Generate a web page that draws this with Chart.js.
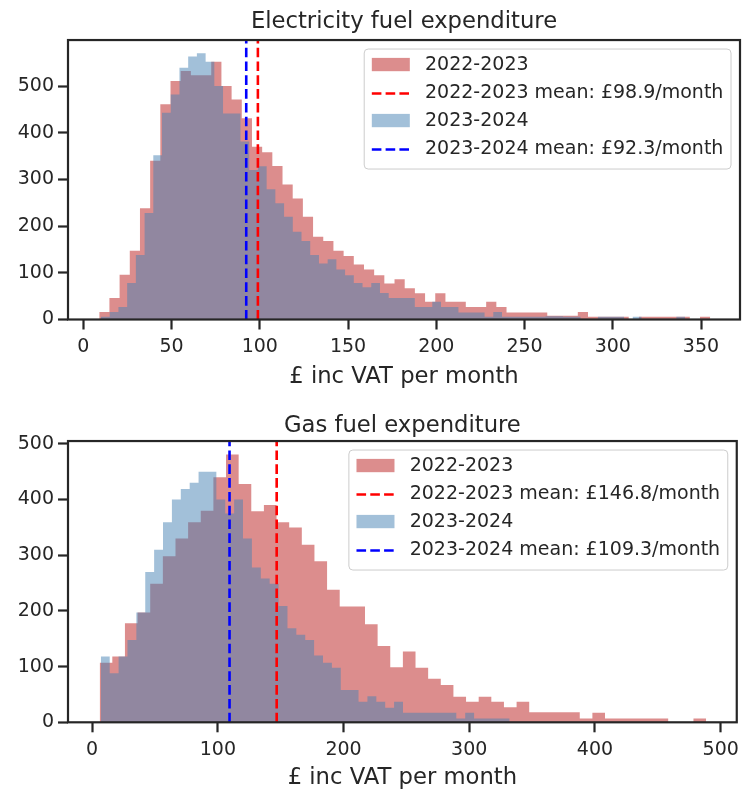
<!DOCTYPE html>
<html>
<head>
<meta charset="utf-8">
<script src="https://cdn.jsdelivr.net/npm/chart.js@4.4.1/dist/chart.umd.min.js"></script>
<style>
  html, body { margin: 0; padding: 0; background: #ffffff; }
  canvas { display: block; }
</style>
</head>
<body>
<canvas id="elec" width="745" height="396"></canvas>
<canvas id="gas" width="745" height="396"></canvas>
<script>
// Monthly fuel spend per household, two heating seasons per fuel.
const seasons = ['2022-2023', '2023-2024'];

// Electricity: histogram bins as [first edge, bin width] in £, counts per bin
const elecBins2223 = [9.0, 5.77];
const elecCounts2223 = [16, 46, 96, 147, 238, 340, 461, 511, 532, 523,
  523, 552, 500, 471, 431, 370, 358, 329, 289, 259,
  220, 177, 168, 147, 136, 118, 107, 95, 77, 86,
  67, 56, 38, 56, 38, 38, 27, 27, 38, 27,
  15, 15, 15, 15, 8, 8, 8, 16, 6, 6,
  6, 6, 0, 6, 6, 6, 6, 6, 0, 6];
const elecBins2324 = [10.0, 4.94];
const elecCounts2324 = [6, 16, 27, 78, 138, 228, 352, 443, 482, 539,
  563, 570, 552, 500, 441, 441, 381, 320, 328, 279,
  249, 220, 188, 168, 138, 120, 129, 107, 95, 78,
  69, 78, 57, 46, 46, 46, 27, 27, 38, 27,
  27, 15, 15, 15, 6, 16, 6, 6, 6, 6,
  6, 7, 7, 6, 6, 0, 0, 6, 6, 6,
  0, 6, 0, 0, 0, 0, 6];
const elecMeans = [98.9, 92.3];

// Gas
const gasBins2223 = [6.0, 10.05];
const gasCounts2223 = [107, 118, 178, 197, 249, 298, 330, 359, 380, 440,
  481, 428, 379, 390, 359, 350, 319, 289, 238, 208,
  208, 176, 137, 99, 127, 98, 78, 67, 46, 37,
  46, 37, 27, 37, 18, 18, 18, 18, 7, 17,
  7, 7, 7, 7, 7, 0, 0, 7];
const gasBins2324 = [6.9, 7.07];
const gasCounts2324 = [118, 88, 118, 148, 197, 270, 310, 359, 400, 419,
  430, 450, 450, 400, 375, 400, 330, 278, 258, 249,
  209, 169, 157, 148, 120, 107, 98, 58, 58, 37,
  47, 37, 26, 37, 17, 17, 17, 17, 17, 17,
  7, 17, 7, 7, 7, 7];
const gasMeans = [146.8, 109.3];

// Axis ranges and tick positions
const elecXRange = [-8.7, 372.1];
const gasXRange = [-19.2, 512.8];
const elecXTicks = [0, 50, 100, 150, 200, 250, 300, 350];
const gasXTicks = [0, 100, 200, 300, 400, 500];
const yTicks = [0, 100, 200, 300, 400, 500];
const xAxisTitle = '£ inc VAT per month';

const ink = '#262626';
const fillColours = ['rgba(205, 92, 92, 0.7)', 'rgba(70, 130, 180, 0.5)'];
const meanColours = ['#ff0000', '#0000ff'];
const FONT = '"DejaVu Sans", sans-serif';

Chart.defaults.font.family = FONT;
Chart.defaults.color = ink;

// Step outline for a histogram: each edge carries the count of the bin to its right
function histogram(label, bins, counts, colour, order) {
  const [first, width] = bins;
  const data = counts.map((c, i) => ({ x: first + i * width, y: c }));
  data.push({ x: first + counts.length * width, y: counts[counts.length - 1] });
  return {
    label, data, kind: 'hist', order,
    backgroundColor: colour, borderColor: 'rgba(0,0,0,0)', borderWidth: 0,
    fill: 'origin', stepped: 'before', pointRadius: 0, tension: 0
  };
}

function meanLine(season, mean, yTop, colour, order) {
  return {
    label: season + ' mean: £' + mean.toFixed(1) + '/month',
    kind: 'mean', order,
    data: [{ x: mean, y: 0 }, { x: mean, y: yTop }],
    borderColor: colour, borderWidth: 2.6, borderDash: [9.6, 4.2],
    fill: false, pointRadius: 0
  };
}

// Axes frame on all four sides plus a legend boxed in the upper right corner
const frameAndLegend = {
  id: 'frameAndLegend',
  afterDraw(chart) {
    const { ctx, chartArea: a } = chart;
    ctx.save();
    ctx.strokeStyle = ink;
    ctx.lineWidth = 2.2;
    ctx.strokeRect(a.left, a.top, a.right - a.left, a.bottom - a.top);

    const fs = 19;
    ctx.font = fs + 'px ' + FONT;
    const items = chart.data.datasets;
    const handleLen = 2.0 * fs, handlePad = 0.8 * fs, pad = 0.4 * fs;
    const pitch = 28, padTop = 16.5, padBottom = 19.5;
    const textW = Math.max(...items.map(d => ctx.measureText(d.label).width));
    const w = pad + handleLen + handlePad + textW + pad;
    const h = padTop + pitch * (items.length - 1) + padBottom;
    const x0 = a.right - 9 - w, y0 = a.top + 9;

    const r = 4;
    ctx.beginPath();
    ctx.moveTo(x0 + r, y0);
    ctx.lineTo(x0 + w - r, y0);
    ctx.arcTo(x0 + w, y0, x0 + w, y0 + r, r);
    ctx.lineTo(x0 + w, y0 + h - r);
    ctx.arcTo(x0 + w, y0 + h, x0 + w - r, y0 + h, r);
    ctx.lineTo(x0 + r, y0 + h);
    ctx.arcTo(x0, y0 + h, x0, y0 + h - r, r);
    ctx.lineTo(x0, y0 + r);
    ctx.arcTo(x0, y0, x0 + r, y0, r);
    ctx.closePath();
    ctx.fillStyle = 'rgba(255,255,255,0.8)';
    ctx.fill();
    ctx.strokeStyle = '#cccccc';
    ctx.lineWidth = 1;
    ctx.stroke();

    items.forEach((d, i) => {
      const cy = y0 + padTop + i * pitch;
      const hx = x0 + pad;
      if (d.kind === 'hist') {
        ctx.fillStyle = d.backgroundColor;
        ctx.fillRect(hx, cy - 0.35 * fs - 1, handleLen, 0.7 * fs);
      } else {
        ctx.strokeStyle = d.borderColor;
        ctx.lineWidth = d.borderWidth;
        ctx.setLineDash(d.borderDash);
        ctx.beginPath();
        ctx.moveTo(hx, cy);
        ctx.lineTo(hx + handleLen, cy);
        ctx.stroke();
        ctx.setLineDash([]);
      }
      ctx.fillStyle = ink;
      ctx.textAlign = 'left';
      ctx.textBaseline = 'middle';
      ctx.fillText(d.label, hx + handleLen + handlePad, cy);
    });
    ctx.restore();
  }
};

function fixedTicks(values) {
  return scale => { scale.ticks = values.map(v => ({ value: v })); };
}

function drawFigure(id, spec) {
  const yTop = Math.max(...spec.counts[0], ...spec.counts[1]) * 1.05;
  const datasets = [
    histogram(seasons[0], spec.bins[0], spec.counts[0], fillColours[0], 3),
    meanLine(seasons[0], spec.means[0], yTop, meanColours[0], 1),
    histogram(seasons[1], spec.bins[1], spec.counts[1], fillColours[1], 2),
    meanLine(seasons[1], spec.means[1], yTop, meanColours[1], 0)
  ];
  const tickFont = { family: FONT, size: 19 };
  const tickGrid = {
    display: true, drawOnChartArea: false, drawTicks: true,
    tickLength: 10, tickWidth: 2.2, tickColor: ink
  };
  return new Chart(document.getElementById(id), {
    type: 'line',
    data: { datasets },
    options: {
      responsive: false,
      animation: false,
      devicePixelRatio: 1,
      layout: { padding: { left: 0, right: 5, top: 0, bottom: 0 } },
      plugins: {
        legend: { display: false },
        tooltip: { enabled: false },
        title: {
          display: true, fullSize: false, text: spec.title, color: ink,
          font: { family: FONT, size: 22.7, weight: 'normal' },
          padding: spec.titlePad
        }
      },
      scales: {
        x: {
          type: 'linear', min: spec.xRange[0], max: spec.xRange[1],
          afterBuildTicks: fixedTicks(spec.xTicks),
          ticks: { autoSkip: false, maxRotation: 0, padding: 6, color: ink, font: tickFont },
          grid: tickGrid,
          border: { display: false },
          title: { display: true, text: xAxisTitle, color: ink,
                   font: { family: FONT, size: 22.7 }, padding: spec.xTitlePad },
          afterFit(scale) { scale.height = spec.xAxisHeight; }
        },
        y: {
          type: 'linear', min: 0, max: yTop,
          afterBuildTicks: fixedTicks(yTicks),
          ticks: { autoSkip: false, padding: 4, color: ink, font: tickFont },
          grid: tickGrid,
          border: { display: false },
          afterFit(scale) { scale.width = 68; }
        }
      }
    },
    plugins: [frameAndLegend]
  });
}

drawFigure('elec', {
  title: 'Electricity fuel expenditure',
  bins: [elecBins2223, elecBins2324],
  counts: [elecCounts2223, elecCounts2324],
  means: elecMeans,
  xRange: elecXRange, xTicks: elecXTicks,
  titlePad: { top: 8.6, bottom: 4.2 },
  xTitlePad: { top: 0, bottom: 5.4 },
  xAxisHeight: 76.5
});

drawFigure('gas', {
  title: 'Gas fuel expenditure',
  bins: [gasBins2223, gasBins2324],
  counts: [gasCounts2223, gasCounts2324],
  means: gasMeans,
  xRange: gasXRange, xTicks: gasXTicks,
  titlePad: { top: 16.9, bottom: 0.9 },
  xTitlePad: { top: 0, bottom: 0 },
  xAxisHeight: 69.7
});
</script>
</body>
</html>
